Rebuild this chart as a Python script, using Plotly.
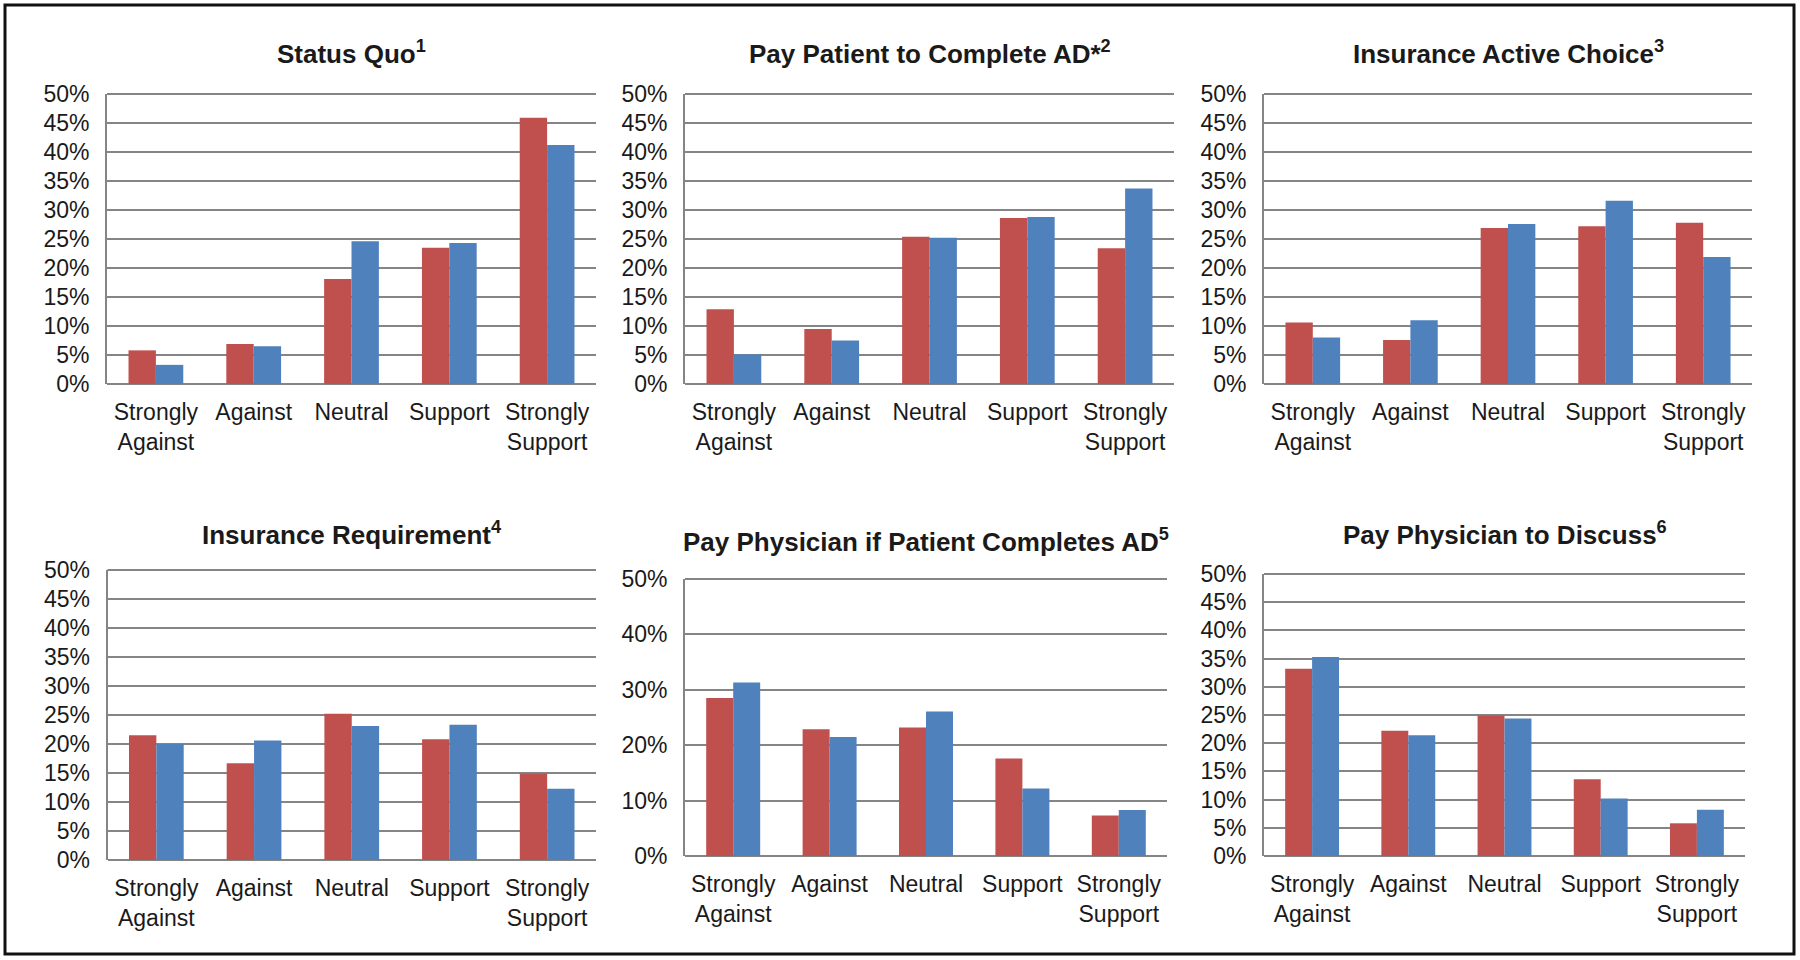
import plotly.graph_objects as go

W, H = 1800, 960

categories = ["Strongly<br>Against", "Against", "Neutral", "Support", "Strongly<br>Support"]

titles = [
    "Status Quo<sup>1</sup>",
    "Pay Patient to Complete AD*<sup>2</sup>",
    "Insurance Active Choice<sup>3</sup>",
    "Insurance Requirement<sup>4</sup>",
    "Pay Physician if Patient Completes AD<sup>5</sup>",
    "Pay Physician to Discuss<sup>6</sup>",
]

status_quo_red = [0.058, 0.069, 0.181, 0.235, 0.459]
status_quo_blue = [0.033, 0.065, 0.246, 0.243, 0.412]

pay_patient_red = [0.129, 0.095, 0.254, 0.286, 0.234]
pay_patient_blue = [0.051, 0.075, 0.252, 0.288, 0.337]

active_choice_red = [0.106, 0.076, 0.269, 0.272, 0.278]
active_choice_blue = [0.080, 0.110, 0.276, 0.316, 0.219]

ins_requirement_red = [0.215, 0.167, 0.252, 0.208, 0.149]
ins_requirement_blue = [0.200, 0.206, 0.231, 0.233, 0.123]

pay_phys_complete_red = [0.285, 0.229, 0.232, 0.176, 0.073]
pay_phys_complete_blue = [0.313, 0.215, 0.261, 0.122, 0.083]

pay_phys_discuss_red = [0.332, 0.222, 0.249, 0.136, 0.058]
pay_phys_discuss_blue = [0.353, 0.214, 0.244, 0.102, 0.082]

red_series = [status_quo_red, pay_patient_red, active_choice_red,
              ins_requirement_red, pay_phys_complete_red, pay_phys_discuss_red]
blue_series = [status_quo_blue, pay_patient_blue, active_choice_blue,
               ins_requirement_blue, pay_phys_complete_blue, pay_phys_discuss_blue]
y_dticks = [0.05, 0.05, 0.05, 0.05, 0.10, 0.05]

RED = "#C0504D"
BLUE = "#4F81BD"
GRID = "#858585"
TEXT = "#1a1a1a"
FONT = "Liberation Sans, Arial, sans-serif"

# plot-area pixel boxes (left, right, top, bottom) and title centre y
boxes = [
    (107, 596, 94, 384),
    (685, 1174, 94, 384),
    (1264, 1752, 94, 384),
    (107.5, 596, 570, 860),
    (685, 1167, 579, 856),
    (1264, 1745, 574, 856),
]
title_y = [52, 52, 52, 533, 540, 533]

fig = go.Figure()
layout = dict(
    width=W, height=H,
    margin=dict(l=0, r=0, t=0, b=0, pad=0, autoexpand=False),
    paper_bgcolor="white", plot_bgcolor="white",
    showlegend=False,
    barmode="group", bargap=0.44, bargroupgap=0.0,
    font=dict(family=FONT, color=TEXT, size=23),
    shapes=[],
)

annotations = []
for i in range(6):
    n = "" if i == 0 else str(i + 1)
    xa, ya = "x" + n, "y" + n
    fig.add_trace(go.Bar(x=categories, y=red_series[i], marker=dict(color=RED, line=dict(width=0)),
                         xaxis=xa, yaxis=ya, name="Series 1"))
    fig.add_trace(go.Bar(x=categories, y=blue_series[i], marker=dict(color=BLUE, line=dict(width=0)),
                         xaxis=xa, yaxis=ya, name="Series 2"))
    l, r, t, b = boxes[i]
    layout["xaxis" + n] = dict(
        domain=[l / W, r / W], anchor=ya, automargin=False,
        showgrid=False, showline=False, zeroline=False,
        ticks="", tickfont=dict(size=23, color=TEXT, family=FONT),
        ticklabelstandoff=12, fixedrange=True,
    )
    layout["yaxis" + n] = dict(
        domain=[1 - b / H, 1 - t / H], anchor=xa, automargin=False,
        range=[0, 0.5], dtick=y_dticks[i], tick0=0, tickformat=".0%",
        showgrid=True, gridcolor=GRID, gridwidth=1.8,
        zeroline=True, zerolinecolor=GRID, zerolinewidth=2,
        showline=True, linecolor=GRID, linewidth=1.8,
        ticks="", tickfont=dict(size=23, color=TEXT, family=FONT),
        ticklabelstandoff=11, fixedrange=True,
    )
    annotations.append(dict(
        text="<b>" + titles[i] + "</b>", xref="paper", yref="paper",
        x=(l + r) / 2 / W, y=1 - title_y[i] / H, xanchor="center", yanchor="middle",
        showarrow=False, font=dict(size=26, color=TEXT, family=FONT),
    ))
    # top boundary line (50%)
    layout["shapes"].append(dict(
        type="line", xref="paper", yref="paper",
        x0=l / W, x1=r / W, y0=1 - t / H, y1=1 - t / H,
        line=dict(color=GRID, width=1.8),
    ))

layout["annotations"] = annotations
layout["shapes"].append(dict(
    type="rect", xref="paper", yref="paper",
    x0=5 / W, x1=1794 / W, y0=1 - 954 / H, y1=1 - 5 / H,
    line=dict(color="#111111", width=3), fillcolor="rgba(0,0,0,0)",
))
fig.update_layout(**layout)
fig.write_html(
    "out.html",
    config={"displayModeBar": False},
    post_script="document.body.style.margin='0';document.body.style.overflow='hidden';",
)
